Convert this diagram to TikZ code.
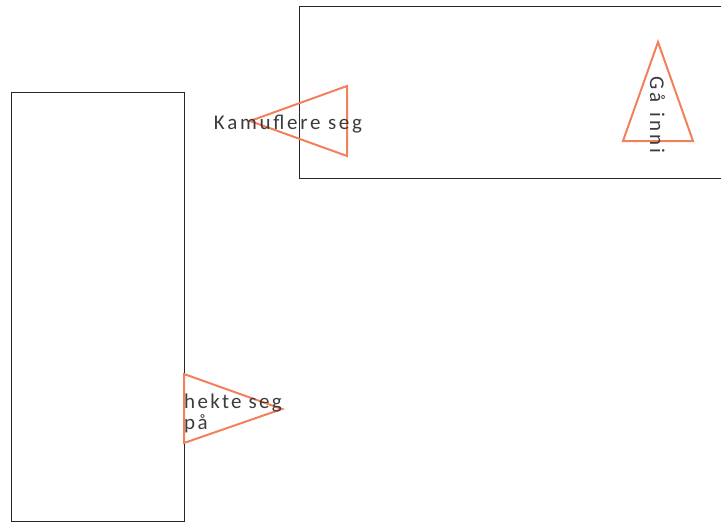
\documentclass[tikz,border=0pt]{standalone}
\usepackage{fontspec}
\setmainfont{Carlito}
\newfontfamily\lblfont[LetterSpace=13]{Carlito}
\newfontfamily\lblfontb[LetterSpace=11]{Carlito}
\definecolor{tri}{RGB}{242,128,90}
\definecolor{txt}{RGB}{60,60,60}
\begin{document}
\begin{tikzpicture}[x=1pt,y=-1pt,
  box/.style={draw=black!85,line width=0.8pt},
  trishape/.style={draw=tri,line width=2pt,line join=miter},
  lbl/.style={text=txt,font=\lblfont\fontsize{21}{21}\selectfont,inner sep=0pt}]
\useasboundingbox (0,0) rectangle (721,522);
\begin{scope}
\clip (0,0) rectangle (721,522);
\draw[box] (11,92) rectangle (184,521);
\draw[box] (299,6) rectangle (730,178);
\end{scope}
\draw[trishape] (250,121) -- (347,86) -- (347,156) -- cycle;
\draw[trishape] (658,42) -- (623,141) -- (693,141) -- cycle;
\draw[trishape] (184,374) -- (282,409) -- (184,443) -- cycle;
\node[lbl,anchor=base] (k) at (288,129) {Kamuflere seg};
\node[lbl,anchor=base west,rotate=-90] (g) at (650,76) {G\hspace{3pt}å\hspace{3pt} i\hspace{3pt}n\hspace{3pt}n\hspace{3pt}i};
\node[lbl,anchor=base west,align=left,font=\lblfontb\fontsize{21}{21}\selectfont] (h) at (184,429) {hekte seg\\på};
\end{tikzpicture}
\end{document}
